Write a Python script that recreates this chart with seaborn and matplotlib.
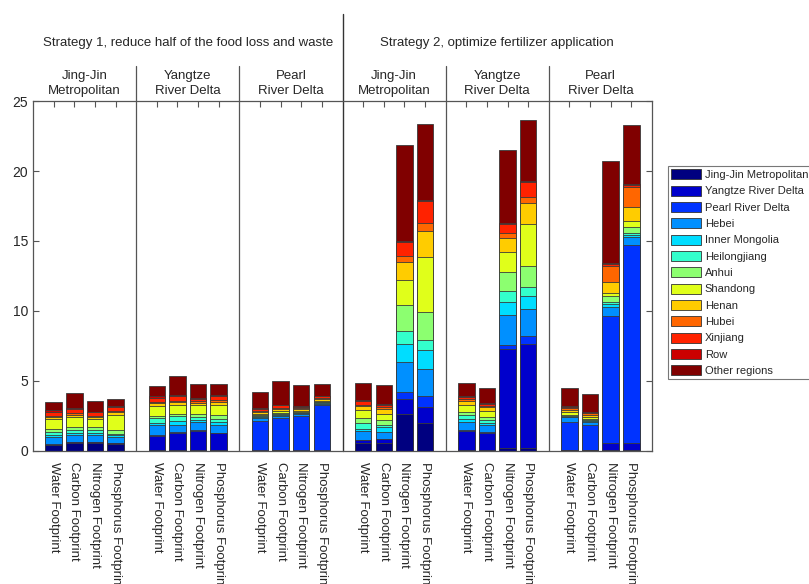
import numpy as np
import pandas as pd
import matplotlib
matplotlib.use('Agg')
import matplotlib.pyplot as plt
import seaborn as sns
from matplotlib.patches import Patch

footprints = ['Water Footprint', 'Carbon Footprint', 'Nitrogen Footprint', 'Phosphorus Footprint']
panels = ['Jing-Jin\nMetropolitan', 'Yangtze\nRiver Delta', 'Pearl\nRiver Delta'] * 2
strategies = ['Strategy 1, reduce half of the food loss and waste',
              'Strategy 2, optimize fertilizer application']

regions = ['Jing-Jin Metropolitan', 'Yangtze River Delta', 'Pearl River Delta', 'Hebei',
           'Inner Mongolia', 'Heilongjiang', 'Anhui', 'Shandong', 'Henan', 'Hubei',
           'Xinjiang', 'Row', 'Other regions']
colors = ['#000080', '#0000CC', '#0033FF', '#0090FF', '#00DDFF', '#33FFCC', '#8CFF70',
          '#E0FF1A', '#FFCC00', '#FF6600', '#FF2200', '#CC0000', '#800000']

# 24 bars: strategy 1 (JJ, YRD, PRD) then strategy 2 (JJ, YRD, PRD), each Water/Carbon/Nitrogen/Phosphorus
jing_jin       = [0.40, 0.57, 0.57, 0.52,  0.04, 0.04, 0.04, 0.04,  0.03, 0.05, 0.03, 0.03,
                  0.55, 0.60, 2.63, 1.97,  0.05, 0.05, 0.19, 0.19,  0.05, 0.05, 0.05, 0.05]
yangtze        = [0.05, 0.05, 0.04, 0.04,  1.03, 1.27, 1.41, 1.22,  0.03, 0.03, 0.03, 0.03,
                  0.23, 0.23, 1.12, 1.14,  1.37, 1.26, 7.12, 7.48,  0.05, 0.05, 0.55, 0.50]
pearl          = [0.05, 0.04, 0.04, 0.04,  0.05, 0.05, 0.05, 0.05,  2.10, 2.25, 2.43, 3.21,
                  0.04, 0.05, 0.43, 0.85,  0.05, 0.07, 0.24, 0.52,  1.99, 1.75, 9.02, 14.19]
hebei          = [0.47, 0.48, 0.49, 0.37,  0.73, 0.49, 0.59, 0.54,  0.17, 0.17, 0.15, 0.12,
                  0.60, 0.45, 2.18, 1.93,  0.62, 0.47, 2.18, 1.92,  0.31, 0.24, 0.66, 0.57]
inner_mongolia = [0.18, 0.16, 0.18, 0.15,  0.15, 0.30, 0.11, 0.25,  0.10, 0.08, 0.06, 0.05,
                  0.18, 0.37, 1.26, 1.30,  0.17, 0.15, 0.90, 0.95,  0.05, 0.05, 0.24, 0.14]
heilongjiang   = [0.23, 0.20, 0.18, 0.12,  0.33, 0.34, 0.25, 0.20,  0.07, 0.07, 0.05, 0.04,
                  0.37, 0.17, 0.95, 0.76,  0.30, 0.18, 0.79, 0.69,  0.07, 0.06, 0.12, 0.12]
anhui          = [0.17, 0.20, 0.20, 0.24,  0.17, 0.16, 0.20, 0.25,  0.05, 0.10, 0.05, 0.03,
                  0.36, 0.31, 1.83, 1.95,  0.24, 0.24, 1.35, 1.43,  0.08, 0.08, 0.40, 0.40]
shandong       = [0.73, 0.75, 0.58, 1.12,  0.70, 0.62, 0.62, 0.77,  0.09, 0.10, 0.05, 0.05,
                  0.59, 0.48, 1.85, 3.94,  0.52, 0.43, 1.43, 3.04,  0.20, 0.12, 0.24, 0.43]
henan          = [0.12, 0.15, 0.17, 0.16,  0.20, 0.20, 0.18, 0.15,  0.12, 0.12, 0.12, 0.12,
                  0.28, 0.34, 1.28, 1.88,  0.24, 0.28, 1.00, 1.49,  0.16, 0.16, 0.78, 1.00]
hubei          = [0.12, 0.12, 0.07, 0.12,  0.10, 0.10, 0.10, 0.18,  0.07, 0.10, 0.10, 0.12,
                  0.12, 0.13, 0.40, 0.54,  0.12, 0.12, 0.35, 0.40,  0.14, 0.12, 1.14, 1.43]
xinjiang       = [0.28, 0.28, 0.24, 0.29,  0.32, 0.35, 0.15, 0.31,  0.17, 0.19, 0.07, 0.10,
                  0.24, 0.17, 0.97, 1.57,  0.19, 0.12, 0.65, 1.14,  0.05, 0.05, 0.17, 0.19]
row            = [0.12, 0.10, 0.06, 0.07,  0.08, 0.10, 0.08, 0.06,  0.07, 0.06, 0.06, 0.05,
                  0.06, 0.07, 0.08, 0.07,  0.09, 0.05, 0.08, 0.07,  0.05, 0.05, 0.05, 0.06]
other          = [0.59, 1.05, 0.73, 0.45,  0.73, 1.34, 0.99, 0.75,  1.15, 1.68, 1.50, 0.82,
                  1.25, 1.33, 6.86, 5.44,  0.91, 1.07, 5.22, 4.33,  1.33, 1.28, 7.31, 4.21]

layers = [jing_jin, yangtze, pearl, hebei, inner_mongolia, heilongjiang, anhui,
          shandong, henan, hubei, xinjiang, row, other]
pos = [5 * p + k for p in range(6) for k in range(1, 5)]
tops = np.cumsum(np.array(layers), axis=0)

sns.set_style('ticks')
plt.rcParams['font.family'] = ['Liberation Sans', 'DejaVu Sans']

fig = plt.figure(figsize=(8.09, 5.84), dpi=100)
ax = fig.add_axes([33 / 809, 133 / 584, 619 / 809, 350 / 584])

# stacked bars: draw cumulative totals from the top layer down
for i in range(len(regions) - 1, -1, -1):
    df = pd.DataFrame({'pos': pos, 'top': tops[i]})
    sns.barplot(data=df, x='pos', y='top', native_scale=True, width=0.8,
                color=colors[i], saturation=1, edgecolor='#3a3a3a', linewidth=0.6,
                errorbar=None, ax=ax)

ax.set_xlim(0, 30)
ax.set_ylim(0, 25)
ax.set_xlabel('')
ax.set_ylabel('')
ax.set_yticks([0, 5, 10, 15, 20, 25])
ax.set_xticks(pos)
ax.set_xticklabels(footprints * 6, rotation=270, ha='center', va='top', fontsize=9.5)
ax.tick_params(axis='x', direction='in', top=True, bottom=True, length=4, pad=8,
               color='#555555')
ax.tick_params(axis='y', direction='in', left=True, right=True, length=4, labelsize=10,
               color='#555555')
for s in ax.spines.values():
    s.set_color('#555555')
    s.set_linewidth(0.9)

# panel separators
for xv in [5, 10, 20, 25]:
    ax.axvline(xv, color='#555555', lw=0.9, zorder=0)
    ax.axvline(xv, ymin=1, ymax=1.1, color='#555555', lw=0.9, clip_on=False)
ax.axvline(15, ymin=0, ymax=1.25, color='#333333', lw=1.0, clip_on=False)

# headers
tr = ax.get_xaxis_transform()
for p, name in enumerate(panels):
    ax.text(5 * p + 2.5, 1.05, name, transform=tr, ha='center', va='center',
            fontsize=9.5, linespacing=1.35)
ax.text(7.5, 1.165, strategies[0], transform=tr, ha='center', va='center', fontsize=9.5)
ax.text(22.5, 1.165, strategies[1], transform=tr, ha='center', va='center', fontsize=9.5)

handles = [Patch(facecolor=c, edgecolor='#333333', linewidth=0.6) for c in colors]
leg = fig.legend(handles, regions, loc='upper left', bbox_to_anchor=(668 / 809, 1 - 166 / 584),
                 fontsize=8, frameon=True, fancybox=False, edgecolor='#555555',
                 handlelength=2.7, handleheight=1.0, handletextpad=0.3, labelspacing=0.5,
                 borderpad=0.3, borderaxespad=0)
leg.get_frame().set_linewidth(0.8)

fig.savefig('out.png', dpi=100)
